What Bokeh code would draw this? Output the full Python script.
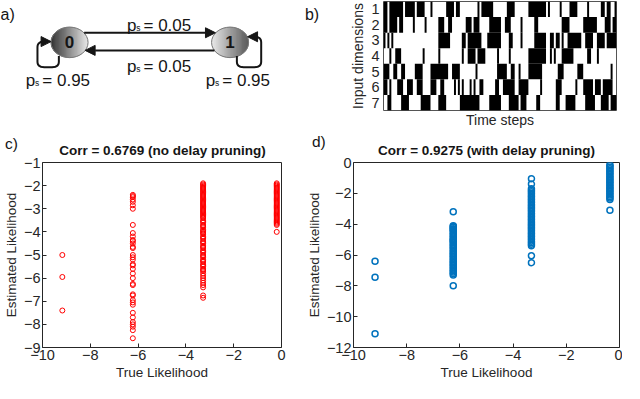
import numpy as np
from bokeh.plotting import figure
from bokeh.layouts import column, row
from bokeh.models import Range1d, Label, Arrow, NormalHead, FixedTicker
from bokeh.core.properties import value
from bokeh.embed import file_html
from bokeh.resources import INLINE

FONT = "Liberation Sans"
TXT = "#262626"

# ---------------- data ----------------
# a) two-state Markov chain
node_names = ["0", "1"]
node_x = [71, 236]
node_y = [51, 51]
node_r = 19
ps_values = ["0.05", "0.05", "0.95", "0.95"]
ps_x = [130, 130, 26, 211]
ps_y = [30, 81, 99, 99]

# b) binary input sequences (1 = black), one string per input dimension
dim_labels = ["1", "2", "3", "4", "5", "6", "7"]
input_rows = [
    "11" "0" "1111111" "0" "11111" "0" "1111" "000" "1" "0000000" "1111" "0" "11" "000000000" "1" "0"
    "111111" "0000000" "1111" "0000000" "111111111" "0" "1" "00000" "1" "0000" "1111" "00000" "1"
    "000000" "11" "0" "11" "00" "1",
    "1101111" "0" "11" "00000" "1" "000001000000" "111" "00" "11" "0000000" "1110111" "00000" "111111"
    "00" "111" "00000" "1" "000000" "11" "000000000000" "1111" "0000000" "1111111" "0000" "111011",
    "10101" "00000000000000000000000" "111111" "000000" "11" "0" "1111111" "000" "1111111" "0000" "11"
    "0000" "1" "000000" "111111" "00" "11" "0" "11" "0" "1" "00" "1111111" "00" "1111" "00" "1111" "0"
    "11111",
    "000" "1" "00" "111" "00000000000" "1" "0000000" "1" "00000000000" "1" "00" "111101111" "000000" "1"
    "00000" "1" "000000000" "111111111" "00" "1" "0" "1" "000" "111111" "0000000" "11" "000" "1"
    "000000000",
    "111" "00" "11" "00" "11" "00000" "1111" "0000" "111111111" "00" "1111" "00000000" "1" "0000000000"
    "11111" "00" "11" "00" "1" "0000" "1111111" "00000000" "111" "0000000" "111" "00000000000" "000100",
    "11010" "00" "111" "00" "111" "00" "111" "0000" "111" "00" "11" "00000" "1" "0" "1" "0" "1" "000" "1"
    "0" "1" "00" "11" "000000" "11" "00" "111111" "00" "11111" "000000" "1" "0000000" "111" "0000000"
    "1" "000" "11111" "0" "111" "0" "11111" "00",
    "00" "11" "00000" "1111" "000000" "11111" "0000" "1111" "0000000" "1111111111" "00000" "111111"
    "0000" "11111" "0" "111" "00000" "11" "00000000" "11" "000" "11111" "00000" "11111" "000" "11110111",
]

# c) / d) true log-likelihood levels (as plotted)
c_levels = [-9.17, -6.22, -3.28, -0.2]
d_levels = [-9.19, -6.25, -3.31, -0.36]

# c) estimated likelihood, no delay pruning
c_est_1 = [-5.0, -5.95, -7.4]
c_est_2 = [-2.4, -2.45, -2.5, -2.6, -2.7, -2.85, -3.0, -3.7, -4.05, -4.2, -4.35, -4.4, -4.5, -4.65,
           -4.7, -5.0, -5.1, -5.2, -5.4, -5.45, -5.6, -5.8, -6.0, -6.25, -6.3, -6.7, -6.75, -6.95,
           -7.05, -7.15, -7.5, -7.7, -7.9, -8.0, -8.1, -8.25, -8.6]
c_est_3 = [-1.90, -1.95, -2.00, -2.05, -2.10, -2.15, -2.20, -2.25, -2.30, -2.35, -2.40, -2.45,
           -2.50, -2.55, -2.60, -2.65, -2.70, -2.75, -2.80, -2.85, -2.90, -2.95, -3.00, -3.05,
           -3.10, -3.15, -3.20, -3.25, -3.30, -3.35, -3.40, -3.50, -3.55, -3.60, -3.70, -3.75,
           -3.80, -3.90, -3.95, -4.00, -4.05, -4.10, -4.20, -4.25, -4.30, -4.40, -4.45, -4.50,
           -4.60, -4.65, -4.70, -4.80, -4.85, -4.90, -5.00, -5.05, -5.10, -5.20, -5.25, -5.30,
           -5.40, -5.45, -5.50, -5.60, -5.65, -5.70, -5.80, -5.90, -6.00, -6.10, -6.20, -6.30,
           -6.40, -6.75, -6.85]
c_est_4 = [-1.90, -1.95, -2.00, -2.05, -2.10, -2.15, -2.20, -2.25, -2.30, -2.35, -2.40, -2.45,
           -2.50, -2.55, -2.60, -2.65, -2.70, -2.75, -2.80, -2.85, -2.90, -2.95, -3.00, -3.05,
           -3.10, -3.15, -3.20, -3.25, -3.30, -3.35, -3.40, -3.45, -3.50, -3.55, -3.60, -3.65,
           -3.70, -4.00]

# d) estimated likelihood, with delay pruning
d_est_1 = [-6.4, -7.45, -11.1]
d_est_2 = [-3.2, -4.1, -4.15, -4.2, -4.3, -4.35, -4.4, -4.5, -4.6, -4.7, -4.8, -4.9, -5.0, -5.05,
           -5.1, -5.2, -5.3, -5.4, -5.5, -5.6, -5.7, -5.8, -5.9, -6.0, -6.1, -6.2, -6.3, -6.4,
           -6.5, -6.6, -6.7, -6.8, -6.9, -7.0, -7.1, -7.2, -7.3, -8.0]
d_est_3 = [-1.05, -1.4, -1.7, -1.8, -1.9, -2.0, -2.1, -2.2, -2.3, -2.4, -2.5, -2.6, -2.7, -2.8,
           -2.9, -3.0, -3.1, -3.2, -3.3, -3.4, -3.5, -3.6, -3.7, -3.8, -3.9, -4.0, -4.1, -4.2,
           -4.3, -4.4, -4.5, -4.6, -4.7, -4.8, -4.9, -5.0, -5.1, -5.2, -5.3, -5.4, -6.05, -6.5]
d_est_4 = [-0.15, -0.2, -0.3, -0.4, -0.5, -0.6, -0.7, -0.8, -0.9, -1.0, -1.1, -1.2, -1.3, -1.4,
           -1.5, -1.6, -1.7, -1.8, -1.9, -2.0, -2.1, -2.2, -2.3, -2.4, -3.1]

c_ticks_x = [-10, -8, -6, -4, -2, 0]
c_ticks_y = [-9, -8, -7, -6, -5, -4, -3, -2, -1]
d_ticks_y = [-12, -10, -8, -6, -4, -2, 0]

c_title = "Corr =  0.6769 (no delay pruning)"
d_title = "Corr = 0.9275 (with delay pruning)"


# ---------------- helpers ----------------
def mix(c1, c2, t):
    r = [int(round(a + (b - a) * t)) for a, b in zip(c1, c2)]
    return "#%02x%02x%02x" % tuple(r)


def rounded(pts, rad):
    out = [pts[0]]
    for i in range(1, len(pts) - 1):
        a, b, c = np.array(pts[i - 1], float), np.array(pts[i], float), np.array(pts[i + 1], float)
        p0 = b + (a - b) / np.linalg.norm(a - b) * rad
        p1 = b + (c - b) / np.linalg.norm(c - b) * rad
        for t in np.linspace(0, 1, 8):
            q = (1 - t) ** 2 * p0 + 2 * (1 - t) * t * b + t ** 2 * p1
            out.append(tuple(q))
    out.append(pts[-1])
    return [p[0] for p in out], [p[1] for p in out]


def style_axes(p, fs="14.5px", lfs="13.5px"):
    for ax in p.axis:
        ax.major_label_text_font = FONT
        ax.major_label_text_font_size = fs
        ax.major_label_text_color = TXT
        ax.axis_label_text_font = FONT
        ax.axis_label_text_font_size = lfs
        ax.axis_label_text_font_style = "normal"
        ax.axis_label_text_color = TXT
        ax.axis_line_color = None
        ax.major_tick_in = 4
        ax.major_tick_out = 0
        ax.major_tick_line_color = TXT
        ax.minor_tick_line_color = None
        ax.major_label_standoff = 2
        ax.axis_label_standoff = 2
    p.grid.visible = False
    p.outline_line_color = TXT
    p.outline_line_width = 1


def text_label(x, y, text, size, bold=False, align="left"):
    return Label(x=x, y=y, text=text, text_font=FONT, text_font_size=size,
                 text_font_style="bold" if bold else "normal", text_color="#151515",
                 text_baseline="alphabetic", text_align=align)


H1, H2 = 130, 252

# ---------------- a) ----------------
fa = figure(width=321, height=H1, x_range=Range1d(0, 330), y_range=Range1d(136, 0),
            x_axis_type=None, y_axis_type=None, output_backend="svg", toolbar_location=None,
            min_border=0)
fa.grid.visible = False
fa.outline_line_color = None

grads = [((45, 45, 45), (230, 230, 230)), ((235, 235, 235), (85, 85, 85))]
for k in range(len(node_x)):
    cx, cy = node_x[k], node_y[k]
    xs, ys, cols = [], [], []
    n = 40
    for j in range(n):
        xx = np.linspace(cx - node_r + 2 * node_r * j / n, cx - node_r + 2 * node_r * (j + 1) / n, 5)
        h = np.sqrt(np.clip(node_r ** 2 - (xx - cx) ** 2, 0, None))
        xs.append(list(xx) + list(xx[::-1]))
        ys.append(list(cy - h) + list((cy + h)[::-1]))
        cols.append(mix(grads[k][0], grads[k][1], (j + 0.5) / n))
    fa.patches(xs, ys, fill_color=cols, line_color=cols, line_width=0.6)
fa.ellipse(x=node_x, y=node_y, width=2 * node_r, height=2 * node_r, fill_color=None,
           line_color="#7a7a7a", line_width=1)
fa.text(x=node_x, y=node_y, text=node_names, text_align="center", text_baseline="middle",
        text_font=value(FONT), text_font_style="bold", text_font_size="17px", text_color="#151515")

ARC = "#151515"
fa.add_layout(Arrow(x_start=86, y_start=39, x_end=221, y_end=39, line_width=2, line_color=ARC,
                    end=NormalHead(size=10, fill_color=ARC, line_color=ARC)))
fa.add_layout(Arrow(x_start=220, y_start=61, x_end=87, y_end=61, line_width=2, line_color=ARC,
                    end=NormalHead(size=10, fill_color=ARC, line_color=ARC)))
lx, ly = rounded([(60, 68), (60, 82), (38, 82), (38, 50), (46, 50)], 7)
fa.line(lx, ly, line_width=2, line_color=ARC)
fa.add_layout(Arrow(x_start=44, y_start=50, x_end=52, y_end=50, line_width=2, line_color=ARC,
                    end=NormalHead(size=10, fill_color=ARC, line_color=ARC)))
lx, ly = rounded([(243, 68), (243, 82), (268, 82), (268, 44), (262, 44)], 7)
fa.line(lx, ly, line_width=2, line_color=ARC)
fa.add_layout(Arrow(x_start=264, y_start=44, x_end=254, y_end=44, line_width=2, line_color=ARC,
                    end=NormalHead(size=10, fill_color=ARC, line_color=ARC)))

fa.text(x=ps_x, y=ps_y, text=["p"] * 4, text_font=value(FONT), text_font_size="17px",
        text_color="#151515", text_baseline="alphabetic")
fa.text(x=[v + 9.5 for v in ps_x], y=[v + 3 for v in ps_y], text=["s"] * 4, text_font=value(FONT),
        text_font_size="8.5px", text_color="#151515", text_baseline="alphabetic")
fa.text(x=[v + 17 for v in ps_x], y=ps_y, text=["= " + v for v in ps_values], text_font=value(FONT),
        text_font_size="17px", text_color="#151515", text_baseline="alphabetic")
fa.text(x=[0, 313], y=[16, 16], text=["a)", "b)"], text_font=value(FONT), text_font_size="16px",
        text_color="#151515", text_baseline="alphabetic")

# ---------------- b) ----------------
n_steps = max(len(r) for r in input_rows)
fb = figure(width=301, height=H1, x_range=Range1d(0, n_steps), y_range=Range1d(7.5, 0.5),
            output_backend="svg", toolbar_location=None, min_border_left=62, min_border_right=6,
            min_border_top=1, min_border_bottom=19, x_axis_label="Time steps",
            y_axis_label="Input dimensions")
left, right, top, bottom = [], [], [], []
for i, s in enumerate(input_rows):
    j = 0
    while j < len(s):
        if s[j] == "1":
            k = j
            while k < len(s) and s[k] == "1":
                k += 1
            left.append(j)
            right.append(k)
            top.append(i + 0.5)
            bottom.append(i + 1.5)
            j = k
        else:
            j += 1
fb.quad(left=left, right=right, top=top, bottom=bottom, fill_color="black", line_color=None)
style_axes(fb, fs="14.5px", lfs="14px")
fb.xaxis.ticker = FixedTicker(ticks=[])
fb.yaxis.ticker = FixedTicker(ticks=[1, 2, 3, 4, 5, 6, 7])
fb.yaxis.major_tick_in = 0
fb.yaxis.major_label_standoff = 4
fb.xaxis.axis_label_standoff = 1
fb.outline_line_color = "#555555"

# ---------------- c) ----------------
fc = figure(width=303, height=H2, x_range=Range1d(-10, 0), y_range=Range1d(-9, -1),
            output_backend="svg", toolbar_location=None, min_border_left=39, min_border_right=22,
            min_border_top=27, min_border_bottom=34, x_axis_label="True Likelihood",
            y_axis_label="Estimated Likelihood")
for lvl, ys in zip(c_levels, [c_est_1, c_est_2, c_est_3, c_est_4]):
    fc.scatter([lvl] * len(ys), ys, marker="circle", size=5, fill_color=None, line_color="#ff0000",
               line_width=1)
style_axes(fc)
fc.xaxis.ticker = FixedTicker(ticks=c_ticks_x)
fc.yaxis.ticker = FixedTicker(ticks=c_ticks_y)
fc.add_layout(text_label(-4.9, -0.48, c_title, "13.5px", bold=True, align="center"), "above")
fc.add_layout(text_label(-11.57, -0.19, "c)", "15.5px"), "right")

# ---------------- d) ----------------
fd = figure(width=319, height=H2, x_range=Range1d(-10, 0), y_range=Range1d(-12, 0),
            output_backend="svg", toolbar_location=None, min_border_left=44, min_border_right=3,
            min_border_top=30, min_border_bottom=29, x_axis_label="True Likelihood",
            y_axis_label="Estimated Likelihood")
for lvl, ys in zip(d_levels, [d_est_1, d_est_2, d_est_3, d_est_4]):
    fd.scatter([lvl] * len(ys), ys, marker="circle", size=6, fill_color=None, line_color="#0072bd",
               line_width=1.5)
style_axes(fd)
fd.xaxis.ticker = FixedTicker(ticks=c_ticks_x)
fd.yaxis.ticker = FixedTicker(ticks=d_ticks_y)
fd.add_layout(text_label(-5.0, 0.80, d_title, "13.5px", bold=True, align="center"), "above")
fd.add_layout(text_label(-11.56, 1.34, "d)", "15.5px"), "above")

for p in (fa, fb, fc, fd):
    p.background_fill_color = "white"
    p.border_fill_color = "white"

layout = column(row(fa, fb), row(fc, fd))
open("out.html", "w").write(file_html(layout, INLINE))
